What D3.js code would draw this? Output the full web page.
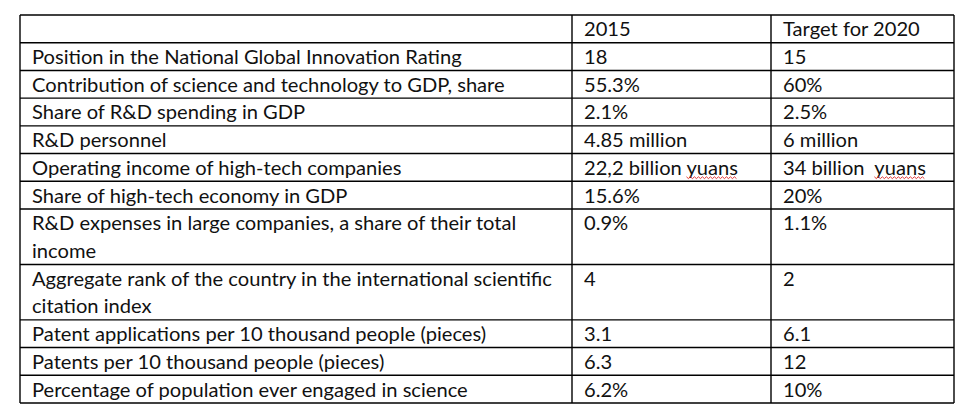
<!DOCTYPE html>
<html>
<head>
<meta charset="utf-8">
<script src="https://cdn.jsdelivr.net/npm/d3@7"></script>
<style>
  html, body { margin: 0; padding: 0; background: #fff; }
  svg text { font-family: Lato, "Open Sans", sans-serif; fill: #111; white-space: pre; }
</style>
</head>
<body>
<svg id="chart" width="967" height="420"></svg>
<script>
// ---- data ----
const headers = ["", "2015", "Target for 2020"];
const indicators = [
  ["Position in the National Global Innovation Rating"],
  ["Contribution of science and technology to GDP, share"],
  ["Share of R&D spending in GDP"],
  ["R&D personnel"],
  ["Operating income of high-tech companies"],
  ["Share of high-tech economy in GDP"],
  ["R&D expenses in large companies, a share of their total", "income"],
  ["Aggregate rank of the country in the international scientific", "citation index"],
  ["Patent applications per 10 thousand people (pieces)"],
  ["Patents per 10 thousand people (pieces)"],
  ["Percentage of population ever engaged in science"]
];
const values2015 = ["18", "55.3%", "2.1%", "4.85 million", "22,2 billion yuans", "15.6%", "0.9%", "4", "3.1", "6.3", "6.2%"];
const values2020 = ["15", "60%", "2.5%", "6 million", "34 billion  yuans", "20%", "1.1%", "2", "6.1", "12", "10%"];
// words flagged by the spell checker (red wavy underline)
const flagged = ["yuans"];

// ---- layout ----
const svg = d3.select("#chart");
const tblLeft = 20, tblRight = 954, tblTop = 15, tblBottom = 403;
const colEdges = [tblLeft, 572, 771, tblRight];
const padX = 12;

// rows in "line units": header is one line, wrapped rows take two
const rows = [{ cells: [[headers[0]], [headers[1]], [headers[2]]], lines: 1 }]
  .concat(indicators.map((lab, i) => ({
    cells: [lab, [values2015[i]], [values2020[i]]],
    lines: lab.length
  })));
let acc = 0;
rows.forEach(r => { r.start = acc; acc += r.lines; });
const totalLines = acc;

const y = d3.scaleLinear().domain([0, totalLines]).range([tblTop, tblBottom]);
const lineH = y(1) - y(0);

// find a font size so the first label fills the same width as the picture
const probe = svg.append("text").attr("font-size", 20).text(indicators[0][0]);
const w20 = probe.node().getComputedTextLength();
probe.remove();
const fontSize = 20 * 430 / w20;

// ---- text ----
const g = svg.append("g");
rows.forEach(r => {
  r.cells.forEach((lines, c) => {
    lines.forEach((line, k) => {
      const t = g.append("text")
        .attr("x", colEdges[c] + padX)
        .attr("y", y(r.start + k) + lineH * 0.77)
        .attr("font-size", fontSize)
        .text(line);
      flagged.forEach(word => {
        const idx = line.indexOf(word);
        if (idx < 0) return;
        const node = t.node();
        const x0 = node.getStartPositionOfChar(idx).x;
        const x1 = node.getEndPositionOfChar(idx + word.length - 1).x;
        const yy = y(r.start + k) + lineH * 0.86;
        const pts = d3.range(x0, x1, 2).map((xx, j) => [xx, yy + (j % 2 ? 1.2 : -0.6)]);
        g.append("path")
          .attr("d", d3.line()(pts))
          .attr("fill", "none")
          .attr("stroke", "#d22")
          .attr("stroke-width", 0.9);
      });
    });
  });
});

// ---- grid ----
const grid = svg.append("g").attr("stroke", "#000").attr("stroke-width", 1.4);
const hLines = rows.map(r => r.start).concat([totalLines]);
grid.selectAll("line.h").data(hLines).join("line")
  .attr("class", "h")
  .attr("x1", tblLeft).attr("x2", tblRight)
  .attr("y1", d => y(d)).attr("y2", d => y(d));
grid.selectAll("line.v").data(colEdges).join("line")
  .attr("class", "v")
  .attr("x1", d => d).attr("x2", d => d)
  .attr("y1", tblTop).attr("y2", tblBottom);
</script>
</body>
</html>
